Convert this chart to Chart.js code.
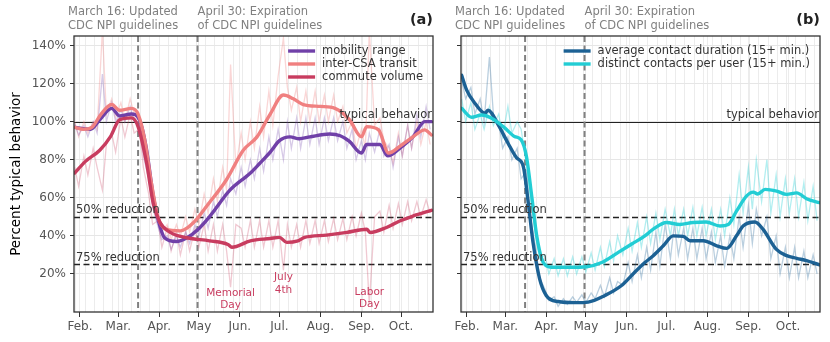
<!DOCTYPE html>
<html>
<head>
<meta charset="utf-8">
<script src="https://cdn.jsdelivr.net/npm/chart.js@4.4.0/dist/chart.umd.min.js"></script>
<style>
  body { margin: 0; background: #fff; }
  #wrap { position: relative; width: 830px; height: 342px; }
  canvas { position: absolute; top: 0; }
</style>
</head>
<body>
<div id="wrap">
  <canvas id="chartA" width="445" height="342" style="left:0"></canvas>
  <canvas id="chartB" width="385" height="342" style="left:445px"></canvas>
</div>
<script>
// day of year 2020 (Jan 1 = 1)
const monthDays = [32, 61, 92, 122, 153, 183, 214, 245, 275];
const monthLabels = ['Feb.', 'Mar.', 'Apr.', 'May', 'Jun.', 'Jul.', 'Aug.', 'Sep.', 'Oct.'];
const yTicks = [20, 40, 60, 80, 100, 120, 140];

const policyDays = [76, 121];
const policyText = [['March 16: Updated', 'CDC NPI guidelines'], ['April 30: Expiration', 'of CDC NPI guidelines']];

const holidayDays = [146, 186, 251];
const holidayNames = [['Memorial', 'Day'], ['July', '4th'], ['Labor', 'Day']];
const holidayLabelY = [10, 18, 10.5];

// raw daily values (sampled twice a week)
const rawDays = [28,31,35,38,42,45,49,52,56,59, 63,66,70,73,77,80,84,87,91,94,
  98,101,105,108,112,115,119,122,126,129, 133,136,140,143,146,150,154,157,161,164,
  168,171,175,178,182,186,189,192,196,199, 203,206,210,213,217,220,224,227,231,234,
  238,241,245,248,251,255,259,262,266,269, 273,276,280,283,287,290,294,297];

const mobilityRaw = [99,93,98,92,100,94,125,100,110,100, 106,100,108,100,98,82,70,55,45,38,
  40,33,40,34,42,36,46,40,52,44, 58,50,64,56,70,62,76,66,80,70,
  86,74,92,80,96,80,100,86,102,86, 102,88,102,88,102,90,102,90,100,86,
  96,80,90,80,94,84,96,82,88,76, 92,82,98,86,104,92,108,96];
const transitRaw = [100,92,100,94,100,96,148,104,112,102, 110,100,112,104,100,88,72,58,50,42,
  46,38,46,40,50,42,54,46,62,52, 70,58,76,64,130,76,94,80,100,86,
  108,92,116,98,124,144,118,106,118,100, 116,100,116,100,114,100,114,100,108,94,
  100,86,96,86,148,98,102,90,86,78, 94,82,98,86,100,88,100,88];
const commuteRaw = [76,66,82,72,86,76,64,88,94,84, 102,92,104,94,96,76,62,46,48,34,
  44,32,42,30,42,32,44,34,46,32, 46,32,46,32,13,46,44,34,48,34,
  48,34,48,34,48,22,46,34,46,34, 48,36,48,36,48,37,49,38,49,38,
  50,40,52,42,4,50,53,42,56,44, 57,46,58,48,58,50,59,52];
const durationRaw = [122,112,118,104,112,100,134,104,100,86, 92,80,86,70,74,50,34,18,12,6,
  8,3,7,4,8,5,9,5,10,7, 14,8,18,10,16,14,26,16,30,18,
  34,22,42,24,46,28,46,30,44,28, 44,28,44,28,42,26,40,24,40,28,
  50,34,56,36,54,40,50,28,40,20, 34,18,34,18,32,18,30,20];
const contactsRaw = [112,100,110,96,104,96,108,98,104,92, 108,94,100,96,78,60,40,28,30,20,
  28,19,28,19,29,20,29,21,31,22, 34,24,37,27,40,30,44,32,47,34,
  50,36,52,38,54,40,54,40,54,40, 55,40,55,40,54,38,54,40,60,46,
  72,52,76,54,80,58,80,52,72,50, 70,52,70,50,68,48,66,48];

// 7-day averages
const mobilityDays = [28,40,47,56,62,71,77,82,87.5,91, 96,105,113,121.5,130,145.5,161,168,176,183,
  191,198,206,221,229,236,245,249,259,265, 274,284,293,298];
const mobilityAvg = [97,96,101,107,103,104,101,87,61,49, 39,37,39,43.5,50,64,73,78,84,90,
  92,91,92,93.5,92.6,89.6,83.5,88,88,82, 86,92,100,100];
const transitDays = [28,34.5,41,48,56,62,71,76,81,86, 91,97,108,118,128,143,155.6,166,176,186,
  193.5,201,214,225,236,245,249,258,265.6,274, 284,293,298];
const transitAvg = [97,96,97,104,109,106,107,104,90.5,68, 50,43.5,42.6,47,55.7,69.6,85,92,104,114,
  112,109,108,107,101,92,97.4,95.7,83.5,87, 92,95.7,93];
const commuteDays = [28,36,47,55,62,71,76,82.5,87.5,92.6, 100,113,130,144,147,161,176,183,188.5,197,
  202,218.6,234,249,251.5,264,274,284,298];
const commuteAvg = [73,79,85,92,101,102,97.4,78,57,47, 42,39,37.4,35.5,34,37.4,38.6,39.2,36.6,37.4,
  39.2,40.4,41.8,43.5,41.8,44.4,47.8,50.4,53.4];
const durationDays = [28,31.8,38,45.6,48,55.7,63,69.6,74.6,78.4, 82,87,92,101,113.8,123.8,136.5,149,159,166.7,
  173,180.6,188,195.7,200.8,210.9,221,228.6,236,241, 250,256,266,274,281.6,289,299];
const durationAvg = [124.4,116.6,109.7,104.4,106,98.3,88.8,81,76.6,57.4, 36.6,17.4,8.7,5.5,4.9,5.2,8.7,13.9,20.9,26,
  29.6,34.8,40,39.7,37.4,37.4,34.8,33.4,40,45.2, 47.3,43.5,33,29.6,28.2,27,24.7];
const contactsDays = [28,35.6,43,50.7,60.8,68,73,77,81,84.8, 89.8,96,109,122.6,134,146.5,156.7,166.7,173,183,
  193,203,213,223.5,229.8,236,243.7,248.7,252,257.6, 266.4,274,281.6,289,299];
const contactsAvg = [107,102.3,103.5,101.8,96.6,92.2,90.5,81.8,61,40, 26,23.5,23.5,23.8,26,31.3,35.7,40,43.5,47,
  46,47,47.3,45.2,46,53,61,63,62,64.4, 63.5,61.8,62.6,59.5,57.4];

const refLines = [100, 50, 25];
const refLabels = ['typical behavior', '50% reduction', '75% reduction'];

Chart.defaults.font.family = 'DejaVu Sans';
Chart.defaults.color = '#555';

const C = {
  mobility: [112, 64, 168],
  transit: [240, 128, 128],
  commute: [200, 60, 95],
  duration: [28, 97, 148],
  contacts: [34, 205, 212]
};
const rgb = (c, a) => `rgba(${c[0]},${c[1]},${c[2]},${a})`;
const pts = (xs, ys) => xs.map((d, i) => ({x: d, y: ys[i]}));

function rawSet(vals, col, alpha) {
  return {data: pts(rawDays, vals), borderColor: rgb(col, alpha), borderWidth: 1.3,
    pointRadius: 0, tension: 0, order: 10, inLegend: false};
}
function avgSet(label, days, vals, col, order) {
  return {label, data: pts(days, vals), borderColor: rgb(col, 1), borderWidth: 3.4,
    pointRadius: 0, cubicInterpolationMode: 'monotone', borderJoinStyle: 'round',
    borderCapStyle: 'round', order, inLegend: true};
}

// weekly grid lines + month ticks
const gridDays = [];
for (let d = 29; d <= 299; d += 7) gridDays.push(d);
monthDays.forEach(d => { if (!gridDays.includes(d)) gridDays.push(d); });
gridDays.sort((a, b) => a - b);

const panelPlugin = {
  id: 'panel',
  beforeDatasetsDraw(chart) {
    const {ctx, chartArea: a, scales: {x, y}} = chart;
    ctx.save();
    ctx.lineWidth = 1.3;
    refLines.forEach((v, i) => {
      const py = Math.round(y.getPixelForValue(v)) + 0.5;
      ctx.strokeStyle = '#222';
      ctx.setLineDash(i === 0 ? [] : [6, 3.5]);
      ctx.lineWidth = i === 0 ? 1.2 : 1.5;
      ctx.beginPath(); ctx.moveTo(a.left, py); ctx.lineTo(a.right, py); ctx.stroke();
    });
    ctx.strokeStyle = '#808080';
    ctx.lineWidth = 2;
    ctx.setLineDash([6, 3.5]);
    policyDays.forEach(d => {
      const px = x.getPixelForValue(d);
      ctx.beginPath(); ctx.moveTo(px, a.top); ctx.lineTo(px, a.bottom); ctx.stroke();
    });
    ctx.restore();
  },
  afterDatasetsDraw(chart) {
    const {ctx, chartArea: a, scales: {x, y}} = chart;
    const o = chart.options.plugins.panel;
    ctx.save();
    // frame
    ctx.strokeStyle = '#333';
    ctx.lineWidth = 1.3;
    ctx.strokeRect(a.left, a.top, a.right - a.left, a.bottom - a.top);

    // reference labels
    ctx.font = '11.5px DejaVu Sans';
    ctx.fillStyle = '#333';
    ctx.textBaseline = 'alphabetic';
    refLines.forEach((v, i) => {
      const py = y.getPixelForValue(v) - 3.5;
      if (i === 0) { ctx.textAlign = 'right'; ctx.fillText(refLabels[i], a.right - 1, py); }
      else { ctx.textAlign = 'left'; ctx.fillText(refLabels[i], a.left + 2, py); }
    });

    // holidays
    if (o.holidays) {
      ctx.font = '10.5px DejaVu Sans';
      ctx.fillStyle = rgb(C.commute, 1);
      ctx.textAlign = 'center';
      ctx.textBaseline = 'middle';
      holidayDays.forEach((d, i) => {
        const px = x.getPixelForValue(d), py = y.getPixelForValue(holidayLabelY[i]);
        ctx.fillText(holidayNames[i][0], px, py);
        ctx.fillText(holidayNames[i][1], px, py + 12.5);
      });
    }

    // legend
    const items = chart.data.datasets.filter(ds => ds.inLegend);
    ctx.font = '11.5px DejaVu Sans';
    const w = Math.max(...items.map(ds => ctx.measureText(ds.label).width));
    const lx = a.right - 10 - w - 34;
    ctx.textAlign = 'left';
    ctx.textBaseline = 'middle';
    items.forEach((ds, i) => {
      const ly = 51 + i * 13;
      ctx.strokeStyle = ds.borderColor;
      ctx.lineWidth = 3.4;
      ctx.setLineDash([]);
      ctx.beginPath(); ctx.moveTo(lx, ly); ctx.lineTo(lx + 27, ly); ctx.stroke();
      ctx.fillStyle = '#333';
      ctx.fillText(ds.label, lx + 34, ly + 0.5);
    });

    // policy annotations above plot
    ctx.font = '11.5px DejaVu Sans';
    ctx.fillStyle = '#808080';
    policyDays.forEach((d, i) => {
      const px = x.getPixelForValue(d) + (i === 0 ? -70 : 0);
      ctx.fillText(policyText[i][0], px, 12);
      ctx.fillText(policyText[i][1], px, 26);
    });

    // panel letter
    ctx.font = 'bold 14.5px DejaVu Sans';
    ctx.fillStyle = '#222';
    ctx.textAlign = 'right';
    ctx.fillText(o.letter, a.right, 20);
    ctx.restore();
  }
};

function makeChart(id, datasets, opts) {
  return new Chart(document.getElementById(id), {
    type: 'line',
    data: {datasets},
    plugins: [panelPlugin],
    options: {
      responsive: false,
      animation: false,
      events: [],
      devicePixelRatio: 1,
      layout: {padding: {top: 36, right: opts.padRight, left: 0, bottom: 0}},
      plugins: {
        legend: {display: false},
        tooltip: {enabled: false},
        panel: {letter: opts.letter, holidays: opts.holidays}
      },
      scales: {
        x: {
          type: 'linear', min: 27.5, max: 299.2,
          afterBuildTicks: s => { s.ticks = gridDays.map(v => ({value: v})); },
          afterFit: s => { s.height = 30; },
          ticks: {
            autoSkip: false, maxRotation: 0, padding: 3, color: '#555', font: {size: 12},
            callback: v => { const k = monthDays.indexOf(v); return k >= 0 ? monthLabels[k] : ''; }
          },
          grid: {
            color: '#ececec', tickLength: 5,
            tickColor: c => monthDays.includes(c.tick && c.tick.value) ? '#333' : 'rgba(0,0,0,0)'
          },
          border: {display: false}
        },
        y: {
          min: 0, max: 145,
          afterBuildTicks: s => { s.ticks = yTicks.map(v => ({value: v})); },
          afterFit: s => { s.width = opts.yWidth; },
          ticks: {display: opts.yLabels, padding: 4, color: '#555', font: {size: 12}, callback: v => v + '%'},
          grid: {color: '#e6e6e6', tickLength: 4, tickColor: '#333'},
          border: {display: false},
          title: {display: opts.yLabels, text: 'Percent typical behavior', color: '#000',
            font: {size: 13.5}, padding: {top: 8, bottom: 0}}
        }
      }
    }
  });
}

makeChart('chartA', [
  rawSet(mobilityRaw, C.mobility, 0.28),
  rawSet(transitRaw, C.transit, 0.32),
  rawSet(commuteRaw, C.commute, 0.28),
  avgSet('mobility range', mobilityDays, mobilityAvg, C.mobility, 3),
  avgSet('inter-CSA transit', transitDays, transitAvg, C.transit, 2),
  avgSet('commute volume', commuteDays, commuteAvg, C.commute, 1)
], {letter: '(a)', holidays: true, padRight: 12, yWidth: 74, yLabels: true});

makeChart('chartB', [
  rawSet(durationRaw, C.duration, 0.3),
  rawSet(contactsRaw, C.contacts, 0.35),
  avgSet('average contact duration (15+ min.)', durationDays, durationAvg, C.duration, 2),
  avgSet('distinct contacts per user (15+ min.)', contactsDays, contactsAvg, C.contacts, 1)
], {letter: '(b)', holidays: false, padRight: 10, yWidth: 16, yLabels: false});
</script>
</body>
</html>
